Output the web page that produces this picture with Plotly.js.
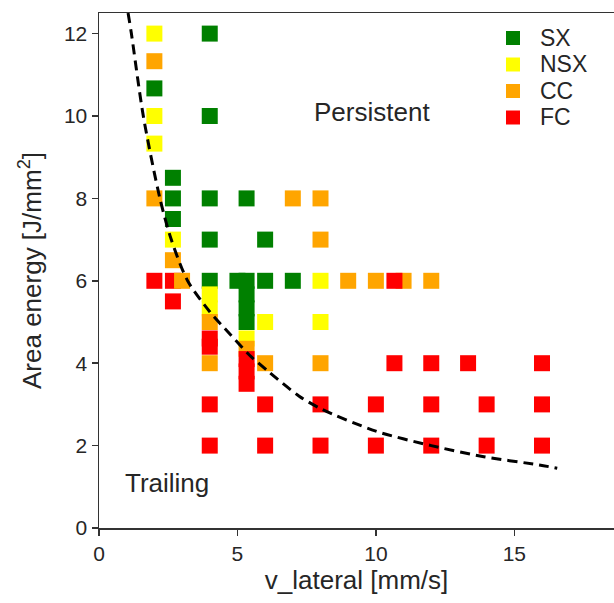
<!DOCTYPE html>
<html><head><meta charset="utf-8">
<script src="https://cdn.plot.ly/plotly-3.0.1.min.js"></script>
<style>html,body{margin:0;padding:0;background:#fff;} #chart{width:614px;height:603px;}</style>
</head><body><div id="chart"></div>
<script>
// ---- data ----
const categories = ['SX', 'NSX', 'CC', 'FC'];
const catColors = ['#008000', '#ffff00', '#ffa500', '#ff0000'];

const sxX = [4, 4, 2, 2.67, 2.67, 2.67, 4, 5.33, 4, 6, 4, 5, 5.33, 5.33, 5.33, 5.33, 6, 7];
const sxY = [12, 10, 10.67, 8.5, 8, 7.5, 8, 8, 7, 7, 6, 6, 6, 5.67, 5.33, 5, 6, 6];

const nsxX = [2, 2, 2, 2.67, 4, 4, 5.33, 6, 8, 8];
const nsxY = [12, 10, 9.33, 7, 5.67, 5.33, 4.6, 5, 6, 5];

const ccX = [2, 2, 2.67, 4, 4, 5.33, 6, 7, 8, 8, 8, 9, 10, 11, 12];
const ccY = [11.33, 8, 6.5, 5, 4, 4.35, 4, 8, 8, 7, 4, 6, 6, 6, 6];
// CC point that sits on top of the neighbouring FC point
const ccTopX = [3];
const ccTopY = [6];

const fcX = [2, 2.67, 2.67, 4, 4, 4, 4, 5.33, 5.33, 5.33, 6, 6, 8, 8, 10, 10, 12, 12, 14, 14, 16, 16, 10.67, 10.67, 12, 13.33, 16];
const fcY = [6, 6, 5.5, 4.6, 4.4, 3, 2, 4.1, 3.8, 3.5, 3, 2, 3, 2, 3, 2, 3, 2, 3, 2, 3, 2, 6, 4, 4, 4, 4];

const curveX = [1.05, 1.17, 1.6, 2.2, 2.61, 3.2, 4.0, 4.71, 5.43, 6.15, 7.23, 8.0, 10.0, 12.0, 13.9, 15.9, 16.55];
const curveY = [12.5, 12.0, 10.0, 8.0, 7.0, 6.0, 5.25, 4.72, 4.2, 3.78, 3.2, 2.9, 2.35, 2.0, 1.73, 1.53, 1.45];

const xTicks = [0, 5, 10, 15];
const yTicks = [0, 2, 4, 6, 8, 10, 12];

const regionLabels = ['Persistent', 'Trailing'];
const regionX = [9.87, 2.46];
const regionY = [10.1, 1.1];

// ---- chart ----
const FONT = 'Liberation Sans, Arial, Helvetica, sans-serif';
const TXT = '#262626';
const seriesX = [sxX, nsxX, ccX, fcX];
const seriesY = [sxY, nsxY, ccY, fcY];

const traces = [];
categories.forEach((c, i) => {
  traces.push({
    type: 'scatter', mode: 'markers', name: c,
    x: seriesX[i], y: seriesY[i],
    marker: {symbol: 'square', size: 16, color: catColors[i], line: {width: 0}},
    hoverinfo: 'x+y+name'
  });
});
traces.push({
  type: 'scatter', mode: 'markers', name: 'CC', showlegend: false,
  x: ccTopX, y: ccTopY,
  marker: {symbol: 'square', size: 16, color: catColors[2], line: {width: 0}}
});
traces.push({
  type: 'scatter', mode: 'lines', name: 'boundary', showlegend: false,
  x: curveX, y: curveY,
  line: {color: '#000', width: 3, dash: '10px,6px', shape: 'spline', smoothing: 0.8}
});

// custom legend (matching the compact reference spacing)
const L = 99, W = 515, B = 528, H = 515;
const legX = 513, legY0 = 38, legStep = 26.5, sq = 14, legTextX = 538;
const shapes = [], annotations = [];
categories.forEach((c, i) => {
  const cy = legY0 + i * legStep;
  shapes.push({
    type: 'rect', xref: 'paper', yref: 'paper',
    x0: (legX - sq / 2 - L) / W, x1: (legX + sq / 2 - L) / W,
    y0: (B - (cy + sq / 2)) / H, y1: (B - (cy - sq / 2)) / H,
    fillcolor: catColors[i], line: {width: 0}
  });
  annotations.push({
    xref: 'paper', yref: 'paper', x: (legTextX - L) / W, y: (B - cy) / H,
    xanchor: 'left', yanchor: 'middle', showarrow: false, text: c,
    font: {family: FONT, size: 23, color: TXT}
  });
});
regionLabels.forEach((t, i) => {
  annotations.push({
    x: regionX[i], y: regionY[i], xref: 'x', yref: 'y', showarrow: false,
    xanchor: 'center', yanchor: 'middle', text: t,
    font: {family: FONT, size: 26, color: TXT}
  });
});

const axisCommon = {
  ticks: 'outside', ticklen: 6, tickwidth: 1.5, tickcolor: '#333',
  showline: true, linecolor: '#333', linewidth: 1.5,
  showgrid: false, zeroline: false,
  tickfont: {family: FONT, size: 21, color: TXT}
};

const layout = {
  width: 614, height: 603,
  margin: {l: 99, r: 0, t: 13, b: 75, pad: 0},
  paper_bgcolor: '#fff', plot_bgcolor: '#fff',
  showlegend: false,
  xaxis: Object.assign({}, axisCommon, {
    range: [0, 18.6], tickvals: xTicks, ticktext: xTicks.map(String), mirror: true,
    title: {text: 'v_lateral [mm/s]', font: {family: FONT, size: 26, color: TXT}, standoff: 4}
  }),
  yaxis: Object.assign({}, axisCommon, {
    range: [0, 12.5], tickvals: yTicks, ticktext: yTicks.map(String),
    title: {text: 'Area energy [J/mm<sup>2</sup>]', font: {family: FONT, size: 26, color: TXT}, standoff: 15}
  }),
  shapes: shapes,
  annotations: annotations
};

Plotly.newPlot('chart', traces, layout, {displayModeBar: false, staticPlot: true});
</script>
</body></html>
